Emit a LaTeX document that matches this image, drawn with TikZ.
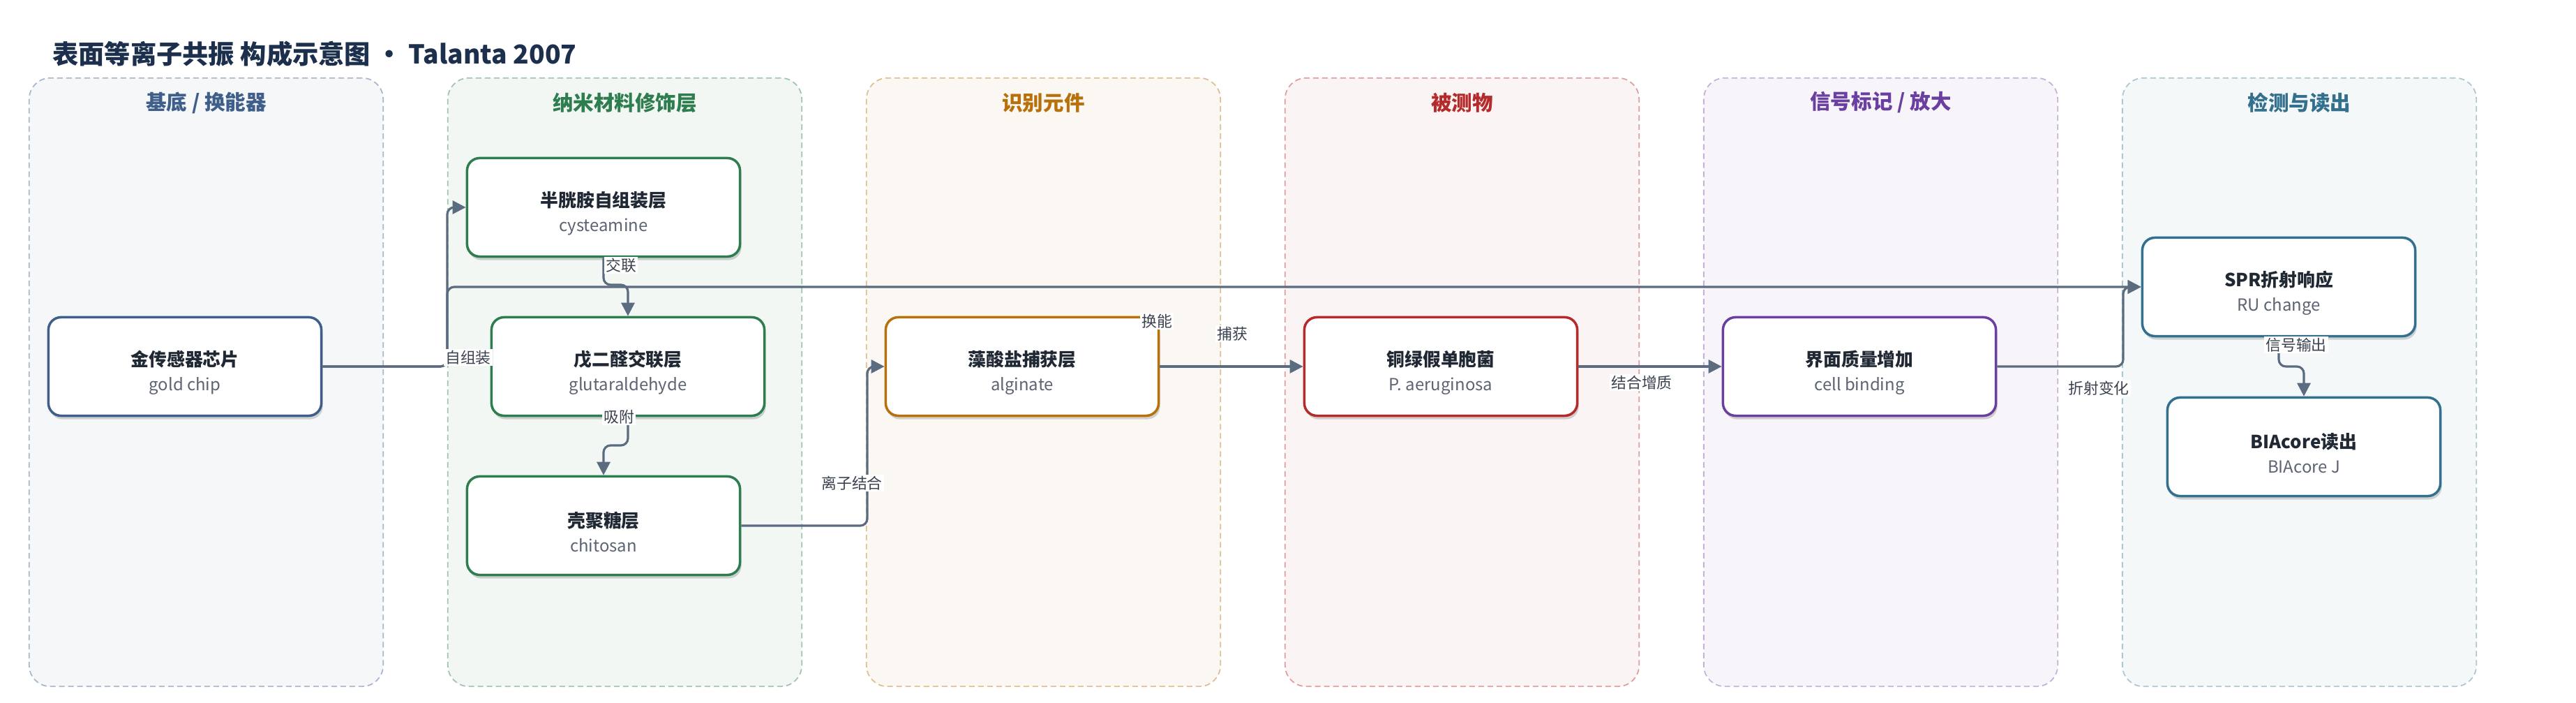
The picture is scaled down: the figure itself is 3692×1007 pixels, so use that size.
\documentclass[tikz,border=0pt]{standalone}
\usepackage{fontspec}
\setmainfont{Noto Sans CJK SC}
\usepackage{xcolor}
\definecolor{colorTitle}{HTML}{1C304D}
\definecolor{colorText}{HTML}{1F2833}
\definecolor{colorSub}{HTML}{5C6372}
\definecolor{colorLabel}{HTML}{3A4250}
\definecolor{colorEdge}{HTML}{5B6B80}
\definecolor{colorChip}{HTML}{3F5F8A}
\definecolor{colorNano}{HTML}{2E7D4F}
\definecolor{colorRecog}{HTML}{B8710A}
\definecolor{colorAnalyte}{HTML}{B52A2A}
\definecolor{colorSignal}{HTML}{6A3FA0}
\definecolor{colorReadout}{HTML}{33708E}
\usepackage{tikz}
\usetikzlibrary{arrows.meta, positioning, shadows}
\tikzset{
  lane/.style={draw, dash pattern=on 0.08cm off 0.05cm, line width=0.5pt, rounded corners=0.3cm, minimum width=5.07cm, minimum height=8.71cm},
  lanetitle/.style={font=\fontsize{8.4pt}{10pt}\selectfont\bfseries},
  box/.style={draw, fill=white, line width=1pt, rounded corners=0.18cm, minimum width=3.91cm, minimum height=1.41cm, align=center, text=colorText, font=\fontsize{7.35pt}{10pt}\selectfont, drop shadow={shadow xshift=0.02cm, shadow yshift=-0.05cm, opacity=0.16, fill=black}},
  lbl/.style={fill=white, inner sep=0.6pt, text=colorLabel, font=\fontsize{6.2pt}{7pt}\selectfont},
}
\newcommand{\ttl}[1]{\rule{0pt}{0.40cm}\textbf{#1}}
\newcommand{\subtxt}[1]{{\fontsize{6.8pt}{10pt}\selectfont\color{colorSub}#1}}

\begin{document}
\begin{tikzpicture}[x=0.01cm, y=-0.01cm, >={Triangle[length=0.19cm, width=0.19cm]}, line width=0.9pt]
\useasboundingbox (0,0) rectangle (3692,1007);
\node[anchor=west, font=\fontsize{10.6pt}{12pt}\selectfont\bfseries, text=colorTitle] (title) at (62,77) {表面等离子共振 构成示意图 · Talanta 2007};
% lanes
\node[lane, draw=colorChip!45, fill=colorChip!5] (lane1) at (295.5,547.5) {};
\node[lane, draw=colorNano!45, fill=colorNano!6] (lane2) at (895.5,547.5) {};
\node[lane, draw=colorRecog!45, fill=colorRecog!5] (lane3) at (1495.5,547.5) {};
\node[lane, draw=colorAnalyte!45, fill=colorAnalyte!5] (lane4) at (2095.5,547.5) {};
\node[lane, draw=colorSignal!40, fill=colorSignal!5] (lane5) at (2695.5,547.5) {};
\node[lane, draw=colorReadout!40, fill=colorReadout!5] (lane6) at (3295.5,547.5) {};
\node[lanetitle, text=colorChip] (t1) at (295.5,147) {基底 / 换能器};
\node[lanetitle, text=colorNano] (t2) at (895.5,147) {纳米材料修饰层};
\node[lanetitle, text=colorRecog] (t3) at (1495.5,147) {识别元件};
\node[lanetitle, text=colorAnalyte] (t4) at (2095.5,147) {被测物};
\node[lanetitle, text=colorSignal] (t5) at (2695.5,147) {信号标记 / 放大};
\node[lanetitle, text=colorReadout] (t6) at (3295.5,147) {检测与读出};
% boxes
\node[box, draw=colorChip] (chip) at (265,525) {\ttl{金传感器芯片}\\\subtxt{gold chip}};
\node[box, draw=colorNano] (cys) at (865,297) {\ttl{半胱胺自组装层}\\\subtxt{cysteamine}};
\node[box, draw=colorNano] (glu) at (900,525) {\ttl{戊二醛交联层}\\\subtxt{glutaraldehyde}};
\node[box, draw=colorNano] (chi) at (865,753) {\ttl{壳聚糖层}\\\subtxt{chitosan}};
\node[box, draw=colorRecog] (alg) at (1465,525) {\ttl{藻酸盐捕获层}\\\subtxt{alginate}};
\node[box, draw=colorAnalyte] (pae) at (2065,525) {\ttl{铜绿假单胞菌}\\\subtxt{P. aeruginosa}};
\node[box, draw=colorSignal] (cell) at (2665,525) {\ttl{界面质量增加}\\\subtxt{cell binding}};
\node[box, draw=colorReadout] (spr) at (3266,411) {\ttl{SPR折射响应}\\\subtxt{RU change}};
\node[box, draw=colorReadout] (bia) at (3302,640) {\ttl{BIAcore读出}\\\subtxt{BIAcore J}};
% connectors
\draw[->, colorEdge, rounded corners=0.1cm] (chip.east) -- (641,525) |- (cys.west);
\draw[->, colorEdge, rounded corners=0.1cm] (chip.east) -- (641,525) |- (spr.west);
\draw[->, colorEdge, rounded corners=0.1cm] (cys.south) -- (865,408) -| (glu.north);
\draw[->, colorEdge, rounded corners=0.1cm] (glu.south) -- (900,638) -| (chi.north);
\draw[->, colorEdge, rounded corners=0.1cm] (chi.east) -| (1243,600) |- (alg.west);
\draw[->, colorEdge] (alg) -- (pae);
\draw[->, colorEdge] (pae) -- (cell);
\draw[->, colorEdge, rounded corners=0.1cm] (cell.east) -| (3043,480) |- (spr.west);
\draw[->, colorEdge, rounded corners=0.1cm] (spr.south) -- (3266,525) -| (bia.north);
% labels
\node[lbl] (l1) at (671,512) {自组装};
\node[lbl] (l2) at (890,380) {交联};
\node[lbl] (l3) at (887,597) {吸附};
\node[lbl] (l4) at (1221,692) {离子结合};
\node[lbl] (l5) at (1658,460) {换能};
\node[lbl] (l6) at (1766,478) {捕获};
\node[lbl] (l7) at (2353,548) {结合增质};
\node[lbl] (l8) at (3008,556) {折射变化};
\node[lbl] (l9) at (3291,494) {信号输出};
\end{tikzpicture}
\end{document}
